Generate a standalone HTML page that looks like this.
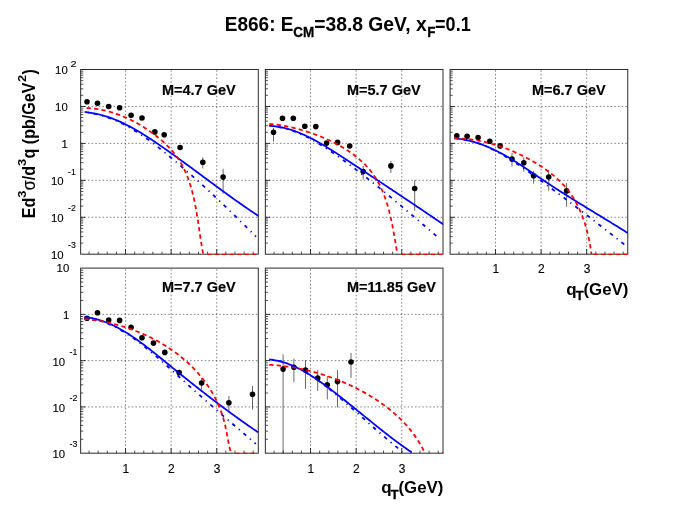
<!DOCTYPE html>
<html><head><meta charset="utf-8"><title>E866</title>
<style>
html,body{margin:0;padding:0;background:#fff;}
body{width:698px;height:523px;overflow:hidden;}
svg text{font-family:"Liberation Sans",sans-serif;fill:#000;filter:grayscale(1);}
svg text.b{font-weight:bold;}
svg text.s{stroke:#000;stroke-width:0.3px;}
svg text.s2{stroke:#000;stroke-width:0.2px;}
svg text.n{font-weight:normal;stroke:#000;stroke-width:0.12px;}
</style></head><body>
<svg width="698" height="523" viewBox="0 0 698 523" style="display:block">
<rect x="0" y="0" width="698" height="523" fill="#fff"/>
<g id="p1">
<clipPath id="c1"><rect x="80.65" y="69.5" width="177.95" height="185.5"/></clipPath>
<path d="M125.55 254.2 V69.5 M171.15 254.2 V69.5 M216.75 254.2 V69.5 M80.65 106.44 H258.3 M80.65 143.38 H258.3 M80.65 180.32 H258.3 M80.65 217.26 H258.3" stroke="#000" stroke-width="0.6" stroke-opacity="0.85" stroke-dasharray="1.5 2.15" fill="none"/>
<path d="M125.55 254.2 v-5 M171.15 254.2 v-5 M216.75 254.2 v-5 M80.65 106.44 h4.6 M80.65 143.38 h4.6 M80.65 180.32 h4.6 M80.65 217.26 h4.6" stroke="#000" stroke-width="0.8" fill="none"/>
<path d="M89.07 254.2 v-2.6 M98.19 254.2 v-2.6 M107.31 254.2 v-2.6 M116.43 254.2 v-2.6 M134.67 254.2 v-2.6 M143.79 254.2 v-2.6 M152.91 254.2 v-2.6 M162.03 254.2 v-2.6 M180.27 254.2 v-2.6 M189.39 254.2 v-2.6 M198.51 254.2 v-2.6 M207.63 254.2 v-2.6 M225.87 254.2 v-2.6 M234.99 254.2 v-2.6 M244.11 254.2 v-2.6 M253.23 254.2 v-2.6 M80.65 95.32 h2.6 M80.65 88.82 h2.6 M80.65 84.2 h2.6 M80.65 80.62 h2.6 M80.65 77.7 h2.6 M80.65 75.22 h2.6 M80.65 73.08 h2.6 M80.65 71.19 h2.6 M80.65 132.26 h2.6 M80.65 125.76 h2.6 M80.65 121.14 h2.6 M80.65 117.56 h2.6 M80.65 114.64 h2.6 M80.65 112.16 h2.6 M80.65 110.02 h2.6 M80.65 108.13 h2.6 M80.65 169.2 h2.6 M80.65 162.7 h2.6 M80.65 158.08 h2.6 M80.65 154.5 h2.6 M80.65 151.58 h2.6 M80.65 149.1 h2.6 M80.65 146.96 h2.6 M80.65 145.07 h2.6 M80.65 206.14 h2.6 M80.65 199.64 h2.6 M80.65 195.02 h2.6 M80.65 191.44 h2.6 M80.65 188.52 h2.6 M80.65 186.04 h2.6 M80.65 183.9 h2.6 M80.65 182.01 h2.6 M80.65 243.08 h2.6 M80.65 236.58 h2.6 M80.65 231.96 h2.6 M80.65 228.38 h2.6 M80.65 225.46 h2.6 M80.65 222.98 h2.6 M80.65 220.84 h2.6 M80.65 218.95 h2.6" stroke="#000" stroke-width="0.7" fill="none"/>
<rect x="80.65" y="69.5" width="177.65" height="184.7" fill="none" stroke="#2a2a2a" stroke-width="1"/>
<path d="M202.8 157.3 V168.5 M223.1 168.7 V193.8" stroke="#000" stroke-width="0.6" fill="none" clip-path="url(#c1)"/>
<circle cx="87" cy="101.8" r="2.8" fill="#000"/>
<circle cx="97.5" cy="103.2" r="2.8" fill="#000"/>
<circle cx="108.7" cy="106.5" r="2.8" fill="#000"/>
<circle cx="119.6" cy="107.8" r="2.8" fill="#000"/>
<circle cx="131.1" cy="115.3" r="2.8" fill="#000"/>
<circle cx="142" cy="118" r="2.8" fill="#000"/>
<circle cx="154.8" cy="131.9" r="2.8" fill="#000"/>
<circle cx="164.2" cy="134.8" r="2.8" fill="#000"/>
<circle cx="180.1" cy="147.5" r="2.8" fill="#000"/>
<circle cx="202.8" cy="162.3" r="2.8" fill="#000"/>
<circle cx="223.1" cy="177.1" r="2.8" fill="#000"/>
<g clip-path="url(#c1)" fill="none" stroke-width="1.75">
<path d="M203.69 254.45 H258.3" stroke="#ff0000" stroke-width="1.5" stroke-dasharray="4 3.5" stroke-dashoffset="3.89"/>
<path d="M84.6 112.09 L86.16 112.28 L87.71 112.49 L89.24 112.73 L90.77 112.98 L92.29 113.26 L93.8 113.56 L95.3 113.89 L96.79 114.23 L98.27 114.59 L99.74 114.97 L101.2 115.38 L102.66 115.8 L104.1 116.24 L105.54 116.7 L106.97 117.18 L108.39 117.68 L109.8 118.19 L111.2 118.73 L112.6 119.28 L113.99 119.84 L115.37 120.43 L116.74 121.02 L118.1 121.64 L119.46 122.27 L120.81 122.91 L122.16 123.58 L123.49 124.25 L124.82 124.94 L126.15 125.64 L127.46 126.36 L128.77 127.09 L130.08 127.83 L131.38 128.58 L132.67 129.35 L133.95 130.12 L135.23 130.91 L136.51 131.71 L137.78 132.52 L139.04 133.35 L140.3 134.18 L141.56 135.02 L142.81 135.87 L144.05 136.73 L145.29 137.6 L146.52 138.47 L147.76 139.36 L148.98 140.25 L150.2 141.15 L151.42 142.05 L152.64 142.97 L153.85 143.89 L155.06 144.81 L156.26 145.74 L157.46 146.68 L158.66 147.62 L159.85 148.57 L161.04 149.52 L162.23 150.47 L163.42 151.43 L164.6 152.39 L165.78 153.35 L166.96 154.32 L168.13 155.29 L169.31 156.26 L170.48 157.23 L171.65 158.2 L172.82 159.18 L173.98 160.16 L175.15 161.14 L176.31 162.12 L177.47 163.1 L178.63 164.09 L179.78 165.07 L180.94 166.06 L182.09 167.05 L183.24 168.05 L184.39 169.04 L185.54 170.04 L186.68 171.04 L187.82 172.03 L188.97 173.04 L190.11 174.04 L191.24 175.04 L192.38 176.05 L193.52 177.06 L194.65 178.07 L195.78 179.08 L196.91 180.09 L198.04 181.11 L199.16 182.12 L200.29 183.14 L201.41 184.16 L202.54 185.18 L203.66 186.2 L204.77 187.22 L205.89 188.25 L207.01 189.27 L208.12 190.3 L209.24 191.33 L210.35 192.36 L211.46 193.39 L212.57 194.43 L213.67 195.46 L214.78 196.5 L215.89 197.53 L216.99 198.57 L218.09 199.61 L219.19 200.65 L220.29 201.7 L221.39 202.74 L222.49 203.78 L223.58 204.83 L224.68 205.88 L225.77 206.93 L226.87 207.97 L227.96 209.03 L229.05 210.08 L230.14 211.13 L231.23 212.18 L232.31 213.24 L233.4 214.3 L234.48 215.35 L235.57 216.41 L236.65 217.47 L237.73 218.53 L238.81 219.59 L239.89 220.66 L240.97 221.72 L242.05 222.78 L243.13 223.85 L244.21 224.91 L245.28 225.98 L246.36 227.05 L247.43 228.12 L248.51 229.19 L249.58 230.26 L250.65 231.33 L251.72 232.4 L252.79 233.47 L253.86 234.55 L254.93 235.62 L256 236.7" stroke="#0000ff" stroke-dasharray="3.65 4.87 1.22 4.87" stroke-dashoffset="5.4"/>
<path d="M84.6 111.99 L86.15 112.15 L87.7 112.34 L89.23 112.55 L90.75 112.78 L92.27 113.04 L93.77 113.31 L95.27 113.61 L96.76 113.93 L98.24 114.27 L99.71 114.62 L101.18 115 L102.64 115.4 L104.09 115.82 L105.53 116.25 L106.96 116.7 L108.39 117.17 L109.81 117.66 L111.22 118.17 L112.63 118.69 L114.03 119.22 L115.42 119.78 L116.8 120.35 L118.18 120.93 L119.56 121.53 L120.92 122.14 L122.29 122.77 L123.64 123.41 L124.99 124.06 L126.34 124.73 L127.68 125.41 L129.01 126.1 L130.34 126.8 L131.66 127.51 L132.98 128.24 L134.3 128.97 L135.61 129.71 L136.91 130.47 L138.22 131.23 L139.51 132 L140.81 132.79 L142.1 133.57 L143.38 134.37 L144.67 135.18 L145.95 135.99 L147.22 136.8 L148.5 137.63 L149.77 138.46 L151.04 139.29 L152.3 140.13 L153.56 140.98 L154.82 141.83 L156.08 142.68 L157.34 143.54 L158.59 144.4 L159.84 145.26 L161.1 146.13 L162.34 146.99 L163.59 147.86 L164.84 148.74 L166.08 149.61 L167.33 150.49 L168.57 151.36 L169.81 152.24 L171.05 153.13 L172.29 154.01 L173.52 154.89 L174.76 155.78 L176 156.67 L177.23 157.56 L178.46 158.45 L179.69 159.34 L180.92 160.23 L182.15 161.13 L183.38 162.02 L184.61 162.92 L185.84 163.82 L187.07 164.72 L188.29 165.62 L189.52 166.52 L190.74 167.42 L191.97 168.32 L193.19 169.22 L194.42 170.12 L195.64 171.03 L196.86 171.93 L198.09 172.83 L199.31 173.74 L200.53 174.64 L201.75 175.54 L202.97 176.45 L204.19 177.35 L205.42 178.26 L206.64 179.16 L207.86 180.06 L209.08 180.97 L210.3 181.87 L211.53 182.77 L212.75 183.67 L213.97 184.57 L215.19 185.47 L216.42 186.37 L217.64 187.27 L218.86 188.17 L220.09 189.06 L221.31 189.96 L222.54 190.85 L223.76 191.75 L224.99 192.64 L226.22 193.53 L227.44 194.42 L228.67 195.3 L229.9 196.19 L231.13 197.08 L232.36 197.96 L233.6 198.84 L234.83 199.72 L236.06 200.6 L237.3 201.47 L238.54 202.34 L239.77 203.22 L241.01 204.09 L242.25 204.95 L243.49 205.82 L244.74 206.68 L245.98 207.54 L247.23 208.4 L248.47 209.25 L249.72 210.1 L250.97 210.95 L252.22 211.8 L253.48 212.64 L254.73 213.48 L255.99 214.32 L257.24 215.16 L258.5 215.99" stroke="#0000ff"/>
<path d="M84.6 108 L86.12 108.04 L87.64 108.1 L89.15 108.19 L90.66 108.31 L92.16 108.44 L93.67 108.6 L95.16 108.78 L96.66 108.99 L98.15 109.22 L99.63 109.47 L101.11 109.74 L102.59 110.03 L104.06 110.34 L105.53 110.68 L106.99 111.03 L108.45 111.41 L109.9 111.8 L111.35 112.22 L112.79 112.65 L114.23 113.11 L115.66 113.58 L117.09 114.08 L118.51 114.59 L119.92 115.12 L121.33 115.67 L122.74 116.24 L124.13 116.82 L125.53 117.43 L126.91 118.05 L128.29 118.68 L129.66 119.34 L131.03 120.01 L132.39 120.69 L133.74 121.4 L135.09 122.11 L136.43 122.85 L137.76 123.6 L139.08 124.36 L140.4 125.14 L141.71 125.93 L143.01 126.74 L144.31 127.56 L145.6 128.4 L146.88 129.25 L148.15 130.11 L149.41 130.99 L150.67 131.88 L151.92 132.78 L153.16 133.69 L154.39 134.62 L155.61 135.56 L156.82 136.5 L158.03 137.47 L159.22 138.44 L160.4 139.42 L161.57 140.42 L162.72 141.43 L163.87 142.46 L164.99 143.49 L166.1 144.54 L167.19 145.61 L168.27 146.68 L169.33 147.77 L170.36 148.88 L171.38 150 L172.37 151.13 L173.35 152.28 L174.3 153.44 L175.22 154.61 L176.12 155.8 L177 157.01 L177.85 158.23 L178.67 159.46 L179.48 160.71 L180.25 161.97 L181.01 163.25 L181.74 164.54 L182.45 165.84 L183.14 167.15 L183.81 168.47 L184.46 169.81 L185.09 171.16 L185.7 172.52 L186.29 173.88 L186.86 175.26 L187.41 176.65 L187.95 178.05 L188.47 179.46 L188.97 180.87 L189.46 182.3 L189.93 183.73 L190.38 185.17 L190.82 186.62 L191.25 188.07 L191.66 189.53 L192.06 191 L192.44 192.47 L192.82 193.95 L193.18 195.44 L193.53 196.93 L193.87 198.42 L194.2 199.92 L194.52 201.43 L194.83 202.93 L195.13 204.44 L195.42 205.96 L195.7 207.47 L195.98 208.99 L196.25 210.51 L196.51 212.04 L196.77 213.56 L197.02 215.09 L197.27 216.61 L197.51 218.14 L197.75 219.66 L197.98 221.19 L198.22 222.71 L198.44 224.24 L198.67 225.76 L198.89 227.28 L199.12 228.8 L199.34 230.32 L199.56 231.83 L199.79 233.34 L200.01 234.85 L200.23 236.36 L200.46 237.86 L200.69 239.35 L200.92 240.84 L201.15 242.33 L201.39 243.81 L201.63 245.28 L201.88 246.75 L202.13 248.21 L202.38 249.67 L202.65 251.12 L202.92 252.56 L203.19 253.99" stroke="#ff0000" stroke-dasharray="4.3 3.2" stroke-dashoffset="-2"/>
</g>
<text transform="translate(162.02 95) scale(0.937 1)" class="b s2" font-size="15.45">M=4.7 GeV</text>
</g>
<g id="p2">
<clipPath id="c2"><rect x="265.35" y="69.5" width="177.95" height="185.5"/></clipPath>
<path d="M310.55 254.2 V69.5 M356.15 254.2 V69.5 M401.75 254.2 V69.5 M265.35 106.44 H443 M265.35 143.38 H443 M265.35 180.32 H443 M265.35 217.26 H443" stroke="#000" stroke-width="0.6" stroke-opacity="0.85" stroke-dasharray="1.5 2.15" fill="none"/>
<path d="M310.55 254.2 v-5 M356.15 254.2 v-5 M401.75 254.2 v-5 M265.35 106.44 h4.6 M265.35 143.38 h4.6 M265.35 180.32 h4.6 M265.35 217.26 h4.6" stroke="#000" stroke-width="0.8" fill="none"/>
<path d="M274.07 254.2 v-2.6 M283.19 254.2 v-2.6 M292.31 254.2 v-2.6 M301.43 254.2 v-2.6 M319.67 254.2 v-2.6 M328.79 254.2 v-2.6 M337.91 254.2 v-2.6 M347.03 254.2 v-2.6 M365.27 254.2 v-2.6 M374.39 254.2 v-2.6 M383.51 254.2 v-2.6 M392.63 254.2 v-2.6 M410.87 254.2 v-2.6 M419.99 254.2 v-2.6 M429.11 254.2 v-2.6 M438.23 254.2 v-2.6 M265.35 95.32 h2.6 M265.35 88.82 h2.6 M265.35 84.2 h2.6 M265.35 80.62 h2.6 M265.35 77.7 h2.6 M265.35 75.22 h2.6 M265.35 73.08 h2.6 M265.35 71.19 h2.6 M265.35 132.26 h2.6 M265.35 125.76 h2.6 M265.35 121.14 h2.6 M265.35 117.56 h2.6 M265.35 114.64 h2.6 M265.35 112.16 h2.6 M265.35 110.02 h2.6 M265.35 108.13 h2.6 M265.35 169.2 h2.6 M265.35 162.7 h2.6 M265.35 158.08 h2.6 M265.35 154.5 h2.6 M265.35 151.58 h2.6 M265.35 149.1 h2.6 M265.35 146.96 h2.6 M265.35 145.07 h2.6 M265.35 206.14 h2.6 M265.35 199.64 h2.6 M265.35 195.02 h2.6 M265.35 191.44 h2.6 M265.35 188.52 h2.6 M265.35 186.04 h2.6 M265.35 183.9 h2.6 M265.35 182.01 h2.6 M265.35 243.08 h2.6 M265.35 236.58 h2.6 M265.35 231.96 h2.6 M265.35 228.38 h2.6 M265.35 225.46 h2.6 M265.35 222.98 h2.6 M265.35 220.84 h2.6 M265.35 218.95 h2.6" stroke="#000" stroke-width="0.7" fill="none"/>
<rect x="265.35" y="69.5" width="177.65" height="184.7" fill="none" stroke="#2a2a2a" stroke-width="1"/>
<path d="M273.5 128 V141.7 M363.2 165.9 V179.5 M390.9 160.8 V173 M414.7 180.2 V210.8" stroke="#000" stroke-width="0.6" fill="none" clip-path="url(#c2)"/>
<circle cx="273.5" cy="132.3" r="2.8" fill="#000"/>
<circle cx="282.5" cy="118.3" r="2.8" fill="#000"/>
<circle cx="293.3" cy="118.3" r="2.8" fill="#000"/>
<circle cx="304.8" cy="126.3" r="2.8" fill="#000"/>
<circle cx="315.8" cy="126.6" r="2.8" fill="#000"/>
<circle cx="326.6" cy="143.1" r="2.8" fill="#000"/>
<circle cx="337.6" cy="142.4" r="2.8" fill="#000"/>
<circle cx="349.7" cy="146" r="2.8" fill="#000"/>
<circle cx="363.2" cy="171.6" r="2.8" fill="#000"/>
<circle cx="390.9" cy="165.9" r="2.8" fill="#000"/>
<circle cx="414.7" cy="188.5" r="2.8" fill="#000"/>
<g clip-path="url(#c2)" fill="none" stroke-width="1.75">
<path d="M397.89 254.45 H443" stroke="#ff0000" stroke-width="1.5" stroke-dasharray="4 3.5" stroke-dashoffset="4.39"/>
<path d="M269.2 125.89 L270.75 126 L272.28 126.15 L273.81 126.32 L275.32 126.52 L276.83 126.75 L278.32 127 L279.81 127.28 L281.29 127.58 L282.76 127.91 L284.22 128.27 L285.67 128.64 L287.12 129.04 L288.55 129.46 L289.98 129.91 L291.4 130.37 L292.81 130.86 L294.22 131.37 L295.61 131.89 L297 132.44 L298.39 133 L299.76 133.59 L301.13 134.19 L302.49 134.81 L303.85 135.44 L305.2 136.09 L306.54 136.76 L307.88 137.44 L309.21 138.13 L310.54 138.84 L311.86 139.56 L313.17 140.3 L314.48 141.04 L315.79 141.8 L317.09 142.57 L318.38 143.35 L319.67 144.14 L320.96 144.94 L322.24 145.75 L323.52 146.57 L324.8 147.4 L326.07 148.23 L327.33 149.07 L328.6 149.92 L329.86 150.77 L331.11 151.62 L332.37 152.49 L333.62 153.35 L334.87 154.22 L336.11 155.09 L337.36 155.97 L338.6 156.85 L339.84 157.73 L341.07 158.61 L342.31 159.5 L343.54 160.39 L344.77 161.28 L346 162.17 L347.22 163.07 L348.45 163.97 L349.67 164.87 L350.89 165.77 L352.1 166.68 L353.32 167.59 L354.53 168.5 L355.74 169.41 L356.95 170.33 L358.16 171.24 L359.36 172.16 L360.57 173.09 L361.77 174.01 L362.97 174.94 L364.16 175.87 L365.36 176.8 L366.55 177.73 L367.75 178.66 L368.94 179.6 L370.13 180.54 L371.32 181.48 L372.5 182.42 L373.69 183.36 L374.87 184.31 L376.05 185.25 L377.23 186.2 L378.41 187.15 L379.59 188.1 L380.77 189.06 L381.94 190.01 L383.12 190.97 L384.29 191.92 L385.46 192.88 L386.63 193.84 L387.8 194.8 L388.97 195.77 L390.13 196.73 L391.3 197.69 L392.46 198.66 L393.63 199.63 L394.79 200.6 L395.95 201.56 L397.11 202.53 L398.27 203.51 L399.43 204.48 L400.59 205.45 L401.75 206.43 L402.9 207.4 L404.06 208.38 L405.22 209.35 L406.37 210.33 L407.52 211.31 L408.68 212.28 L409.83 213.26 L410.98 214.24 L412.13 215.22 L413.29 216.2 L414.44 217.18 L415.59 218.16 L416.74 219.15 L417.89 220.13 L419.04 221.11 L420.18 222.09 L421.33 223.08 L422.48 224.06 L423.63 225.04 L424.78 226.02 L425.93 227.01 L427.07 227.99 L428.22 228.97 L429.37 229.96 L430.52 230.94 L431.66 231.92 L432.81 232.91 L433.96 233.89 L435.11 234.87 L436.26 235.85 L437.4 236.84 L438.55 237.82 L439.7 238.8" stroke="#0000ff" stroke-dasharray="3.65 4.87 1.22 4.87" stroke-dashoffset="5.4"/>
<path d="M269.2 125.89 L270.75 125.96 L272.29 126.06 L273.82 126.2 L275.34 126.36 L276.85 126.56 L278.35 126.78 L279.84 127.04 L281.32 127.32 L282.8 127.62 L284.27 127.95 L285.72 128.31 L287.18 128.69 L288.62 129.1 L290.06 129.53 L291.48 129.98 L292.91 130.45 L294.32 130.94 L295.73 131.46 L297.13 131.99 L298.52 132.54 L299.91 133.11 L301.3 133.69 L302.68 134.29 L304.05 134.91 L305.41 135.54 L306.78 136.19 L308.13 136.85 L309.49 137.52 L310.83 138.2 L312.18 138.89 L313.52 139.6 L314.85 140.31 L316.18 141.04 L317.51 141.77 L318.84 142.51 L320.16 143.26 L321.47 144.02 L322.79 144.79 L324.1 145.57 L325.41 146.35 L326.71 147.14 L328.01 147.93 L329.31 148.73 L330.61 149.54 L331.9 150.35 L333.2 151.16 L334.49 151.98 L335.77 152.8 L337.06 153.63 L338.35 154.46 L339.63 155.29 L340.91 156.12 L342.19 156.96 L343.47 157.79 L344.75 158.63 L346.03 159.47 L347.3 160.31 L348.58 161.14 L349.85 161.98 L351.13 162.82 L352.4 163.66 L353.67 164.49 L354.95 165.33 L356.22 166.16 L357.49 167 L358.76 167.84 L360.03 168.67 L361.3 169.51 L362.57 170.34 L363.84 171.18 L365.1 172.02 L366.37 172.85 L367.64 173.69 L368.9 174.52 L370.17 175.36 L371.43 176.19 L372.7 177.03 L373.96 177.87 L375.23 178.7 L376.49 179.54 L377.75 180.37 L379.01 181.21 L380.28 182.05 L381.54 182.88 L382.8 183.72 L384.06 184.56 L385.32 185.39 L386.58 186.23 L387.84 187.07 L389.1 187.9 L390.36 188.74 L391.62 189.58 L392.88 190.42 L394.14 191.26 L395.4 192.09 L396.66 192.93 L397.91 193.77 L399.17 194.61 L400.43 195.45 L401.69 196.29 L402.95 197.13 L404.2 197.97 L405.46 198.81 L406.72 199.66 L407.97 200.5 L409.23 201.34 L410.49 202.18 L411.75 203.03 L413 203.87 L414.26 204.72 L415.52 205.56 L416.77 206.41 L418.03 207.25 L419.29 208.1 L420.55 208.94 L421.8 209.79 L423.06 210.64 L424.32 211.49 L425.58 212.34 L426.83 213.19 L428.09 214.04 L429.35 214.89 L430.61 215.74 L431.87 216.59 L433.12 217.45 L434.38 218.3 L435.64 219.16 L436.9 220.01 L438.16 220.87 L439.42 221.73 L440.68 222.58 L441.94 223.44 L443.2 224.3" stroke="#0000ff"/>
<path d="M269.2 123.99 L270.7 124.11 L272.2 124.24 L273.69 124.39 L275.18 124.55 L276.67 124.73 L278.16 124.93 L279.64 125.14 L281.12 125.37 L282.6 125.61 L284.08 125.87 L285.56 126.14 L287.03 126.43 L288.5 126.73 L289.97 127.04 L291.44 127.37 L292.91 127.71 L294.37 128.07 L295.83 128.44 L297.29 128.82 L298.75 129.21 L300.2 129.62 L301.65 130.03 L303.11 130.46 L304.55 130.9 L306 131.35 L307.45 131.82 L308.89 132.29 L310.33 132.77 L311.77 133.27 L313.2 133.77 L314.64 134.29 L316.07 134.81 L317.5 135.35 L318.92 135.9 L320.34 136.46 L321.76 137.03 L323.17 137.61 L324.57 138.21 L325.98 138.82 L327.37 139.44 L328.76 140.07 L330.15 140.71 L331.53 141.37 L332.9 142.04 L334.27 142.73 L335.63 143.43 L336.98 144.14 L338.32 144.87 L339.66 145.61 L340.98 146.37 L342.3 147.14 L343.61 147.93 L344.92 148.73 L346.21 149.54 L347.49 150.38 L348.76 151.22 L350.02 152.08 L351.26 152.96 L352.5 153.85 L353.72 154.76 L354.93 155.69 L356.12 156.62 L357.3 157.58 L358.46 158.55 L359.6 159.54 L360.73 160.54 L361.85 161.55 L362.94 162.59 L364.02 163.64 L365.08 164.7 L366.12 165.78 L367.13 166.88 L368.13 167.99 L369.11 169.12 L370.07 170.27 L371 171.43 L371.91 172.6 L372.8 173.8 L373.66 175.01 L374.5 176.24 L375.32 177.48 L376.11 178.74 L376.88 180.01 L377.63 181.3 L378.36 182.6 L379.07 183.91 L379.75 185.24 L380.42 186.58 L381.06 187.94 L381.69 189.3 L382.29 190.68 L382.88 192.06 L383.45 193.46 L384.01 194.87 L384.54 196.28 L385.06 197.71 L385.57 199.14 L386.06 200.59 L386.53 202.04 L386.99 203.49 L387.44 204.96 L387.87 206.43 L388.29 207.9 L388.69 209.38 L389.09 210.87 L389.47 212.36 L389.84 213.85 L390.2 215.35 L390.55 216.85 L390.89 218.35 L391.22 219.86 L391.55 221.36 L391.86 222.87 L392.17 224.38 L392.47 225.89 L392.76 227.4 L393.04 228.91 L393.32 230.41 L393.6 231.92 L393.87 233.42 L394.13 234.92 L394.39 236.42 L394.65 237.92 L394.91 239.41 L395.16 240.89 L395.41 242.37 L395.66 243.85 L395.9 245.32 L396.15 246.78 L396.4 248.24 L396.65 249.69 L396.89 251.14 L397.14 252.57 L397.39 254" stroke="#ff0000" stroke-dasharray="4.3 3.2" stroke-dashoffset="0"/>
</g>
<text transform="translate(347.02 95) scale(0.937 1)" class="b s2" font-size="15.45">M=5.7 GeV</text>
</g>
<g id="p3">
<clipPath id="c3"><rect x="450.1" y="69.5" width="177.95" height="185.5"/></clipPath>
<path d="M495.5 254.2 V69.5 M541.1 254.2 V69.5 M586.7 254.2 V69.5 M450.1 106.44 H627.75 M450.1 143.38 H627.75 M450.1 180.32 H627.75 M450.1 217.26 H627.75" stroke="#000" stroke-width="0.6" stroke-opacity="0.85" stroke-dasharray="1.5 2.15" fill="none"/>
<path d="M495.5 254.2 v-5 M541.1 254.2 v-5 M586.7 254.2 v-5 M450.1 106.44 h4.6 M450.1 143.38 h4.6 M450.1 180.32 h4.6 M450.1 217.26 h4.6" stroke="#000" stroke-width="0.8" fill="none"/>
<path d="M459.02 254.2 v-2.6 M468.14 254.2 v-2.6 M477.26 254.2 v-2.6 M486.38 254.2 v-2.6 M504.62 254.2 v-2.6 M513.74 254.2 v-2.6 M522.86 254.2 v-2.6 M531.98 254.2 v-2.6 M550.22 254.2 v-2.6 M559.34 254.2 v-2.6 M568.46 254.2 v-2.6 M577.58 254.2 v-2.6 M595.82 254.2 v-2.6 M604.94 254.2 v-2.6 M614.06 254.2 v-2.6 M623.18 254.2 v-2.6 M450.1 95.32 h2.6 M450.1 88.82 h2.6 M450.1 84.2 h2.6 M450.1 80.62 h2.6 M450.1 77.7 h2.6 M450.1 75.22 h2.6 M450.1 73.08 h2.6 M450.1 71.19 h2.6 M450.1 132.26 h2.6 M450.1 125.76 h2.6 M450.1 121.14 h2.6 M450.1 117.56 h2.6 M450.1 114.64 h2.6 M450.1 112.16 h2.6 M450.1 110.02 h2.6 M450.1 108.13 h2.6 M450.1 169.2 h2.6 M450.1 162.7 h2.6 M450.1 158.08 h2.6 M450.1 154.5 h2.6 M450.1 151.58 h2.6 M450.1 149.1 h2.6 M450.1 146.96 h2.6 M450.1 145.07 h2.6 M450.1 206.14 h2.6 M450.1 199.64 h2.6 M450.1 195.02 h2.6 M450.1 191.44 h2.6 M450.1 188.52 h2.6 M450.1 186.04 h2.6 M450.1 183.9 h2.6 M450.1 182.01 h2.6 M450.1 243.08 h2.6 M450.1 236.58 h2.6 M450.1 231.96 h2.6 M450.1 228.38 h2.6 M450.1 225.46 h2.6 M450.1 222.98 h2.6 M450.1 220.84 h2.6 M450.1 218.95 h2.6" stroke="#000" stroke-width="0.7" fill="none"/>
<rect x="450.1" y="69.5" width="177.65" height="184.7" fill="none" stroke="#2a2a2a" stroke-width="1"/>
<path d="M512 153 V166.7 M523.8 157.3 V171.7 M533.6 170.8 V183.7 M548.7 170.1 V190.9 M566.6 183 V206.7" stroke="#000" stroke-width="0.6" fill="none" clip-path="url(#c3)"/>
<circle cx="456.8" cy="135.8" r="2.8" fill="#000"/>
<circle cx="467.1" cy="136.3" r="2.8" fill="#000"/>
<circle cx="478.1" cy="137.5" r="2.8" fill="#000"/>
<circle cx="489.8" cy="141.3" r="2.8" fill="#000"/>
<circle cx="500.1" cy="145.9" r="2.8" fill="#000"/>
<circle cx="512" cy="159.1" r="2.8" fill="#000"/>
<circle cx="523.8" cy="162.8" r="2.8" fill="#000"/>
<circle cx="533.6" cy="175.8" r="2.8" fill="#000"/>
<circle cx="548.7" cy="177" r="2.8" fill="#000"/>
<circle cx="566.6" cy="190.9" r="2.8" fill="#000"/>
<g clip-path="url(#c3)" fill="none" stroke-width="1.75">
<path d="M591.99 254.45 H627.75" stroke="#ff0000" stroke-width="1.5" stroke-dasharray="4 3.5" stroke-dashoffset="6.09"/>
<path d="M454.2 138.29 L455.76 138.42 L457.31 138.57 L458.85 138.74 L460.38 138.95 L461.9 139.18 L463.41 139.44 L464.91 139.72 L466.4 140.02 L467.89 140.35 L469.36 140.7 L470.83 141.08 L472.29 141.48 L473.74 141.9 L475.18 142.34 L476.61 142.8 L478.04 143.28 L479.46 143.78 L480.87 144.3 L482.28 144.84 L483.68 145.4 L485.07 145.98 L486.45 146.57 L487.83 147.18 L489.2 147.8 L490.56 148.44 L491.92 149.1 L493.27 149.77 L494.62 150.45 L495.96 151.15 L497.3 151.86 L498.63 152.58 L499.95 153.31 L501.27 154.06 L502.59 154.82 L503.9 155.58 L505.21 156.36 L506.51 157.15 L507.8 157.94 L509.1 158.74 L510.39 159.55 L511.67 160.37 L512.95 161.19 L514.23 162.02 L515.5 162.86 L516.78 163.7 L518.04 164.55 L519.31 165.4 L520.57 166.26 L521.83 167.12 L523.09 167.99 L524.34 168.86 L525.59 169.73 L526.84 170.61 L528.09 171.49 L529.34 172.38 L530.58 173.27 L531.82 174.16 L533.06 175.05 L534.3 175.95 L535.53 176.84 L536.77 177.74 L538 178.64 L539.24 179.54 L540.47 180.44 L541.7 181.34 L542.93 182.24 L544.16 183.14 L545.39 184.05 L546.61 184.95 L547.84 185.85 L549.07 186.76 L550.29 187.66 L551.52 188.56 L552.74 189.47 L553.96 190.37 L555.18 191.28 L556.41 192.19 L557.63 193.09 L558.85 194 L560.07 194.91 L561.28 195.82 L562.5 196.73 L563.72 197.64 L564.93 198.55 L566.15 199.46 L567.36 200.37 L568.58 201.28 L569.79 202.19 L571 203.11 L572.22 204.02 L573.43 204.94 L574.64 205.85 L575.85 206.77 L577.06 207.68 L578.27 208.6 L579.48 209.52 L580.68 210.44 L581.89 211.36 L583.1 212.28 L584.3 213.2 L585.51 214.12 L586.71 215.05 L587.92 215.97 L589.12 216.9 L590.33 217.82 L591.53 218.75 L592.73 219.67 L593.93 220.6 L595.13 221.53 L596.33 222.46 L597.53 223.39 L598.73 224.32 L599.93 225.26 L601.13 226.19 L602.33 227.13 L603.53 228.06 L604.73 229 L605.92 229.94 L607.12 230.87 L608.31 231.81 L609.51 232.75 L610.71 233.7 L611.9 234.64 L613.09 235.58 L614.29 236.53 L615.48 237.47 L616.68 238.42 L617.87 239.37 L619.06 240.32 L620.25 241.27 L621.45 242.22 L622.64 243.18 L623.83 244.13 L625.02 245.09 L626.21 246.04 L627.4 247" stroke="#0000ff" stroke-dasharray="3.65 4.87 1.22 4.87" stroke-dashoffset="5.4"/>
<path d="M454.2 138.29 L455.75 138.43 L457.29 138.6 L458.82 138.79 L460.34 139 L461.86 139.24 L463.36 139.49 L464.86 139.77 L466.34 140.08 L467.82 140.4 L469.29 140.74 L470.75 141.1 L472.21 141.48 L473.66 141.89 L475.1 142.31 L476.53 142.75 L477.95 143.2 L479.37 143.68 L480.78 144.17 L482.19 144.68 L483.58 145.21 L484.97 145.75 L486.36 146.31 L487.74 146.88 L489.11 147.47 L490.48 148.07 L491.84 148.69 L493.2 149.32 L494.55 149.96 L495.89 150.62 L497.23 151.29 L498.57 151.97 L499.9 152.66 L501.22 153.36 L502.55 154.08 L503.86 154.81 L505.18 155.54 L506.49 156.29 L507.79 157.04 L509.1 157.81 L510.39 158.58 L511.69 159.36 L512.98 160.15 L514.27 160.94 L515.56 161.74 L516.84 162.55 L518.12 163.37 L519.4 164.19 L520.68 165.01 L521.95 165.85 L523.23 166.68 L524.5 167.52 L525.77 168.36 L527.04 169.21 L528.3 170.06 L529.57 170.91 L530.83 171.76 L532.1 172.62 L533.36 173.48 L534.62 174.34 L535.89 175.19 L537.15 176.05 L538.41 176.91 L539.67 177.77 L540.94 178.62 L542.2 179.48 L543.46 180.33 L544.73 181.18 L545.99 182.03 L547.26 182.87 L548.53 183.72 L549.8 184.55 L551.07 185.39 L552.34 186.22 L553.61 187.05 L554.88 187.88 L556.16 188.7 L557.43 189.53 L558.71 190.35 L559.98 191.16 L561.26 191.98 L562.54 192.79 L563.82 193.6 L565.09 194.41 L566.37 195.22 L567.66 196.02 L568.94 196.82 L570.22 197.63 L571.5 198.43 L572.79 199.22 L574.07 200.02 L575.35 200.82 L576.64 201.61 L577.93 202.4 L579.21 203.19 L580.5 203.99 L581.79 204.77 L583.07 205.56 L584.36 206.35 L585.65 207.14 L586.94 207.93 L588.23 208.71 L589.52 209.5 L590.81 210.28 L592.09 211.07 L593.38 211.86 L594.67 212.64 L595.97 213.43 L597.26 214.21 L598.55 215 L599.84 215.78 L601.13 216.57 L602.42 217.35 L603.71 218.14 L605 218.93 L606.29 219.72 L607.58 220.5 L608.87 221.29 L610.16 222.08 L611.45 222.88 L612.74 223.67 L614.03 224.46 L615.32 225.26 L616.61 226.05 L617.9 226.85 L619.19 227.65 L620.48 228.45 L621.77 229.25 L623.05 230.06 L624.34 230.86 L625.63 231.67 L626.92 232.48 L628.2 233.3" stroke="#0000ff"/>
<path d="M454.2 138.3 L455.73 138.32 L457.25 138.35 L458.77 138.41 L460.28 138.48 L461.8 138.56 L463.31 138.67 L464.82 138.79 L466.33 138.93 L467.84 139.09 L469.34 139.26 L470.84 139.45 L472.34 139.65 L473.83 139.87 L475.33 140.11 L476.82 140.36 L478.31 140.63 L479.79 140.91 L481.27 141.21 L482.75 141.53 L484.23 141.85 L485.7 142.2 L487.17 142.56 L488.64 142.93 L490.1 143.32 L491.56 143.72 L493.02 144.14 L494.47 144.57 L495.92 145.01 L497.37 145.47 L498.81 145.94 L500.25 146.43 L501.69 146.93 L503.12 147.44 L504.55 147.96 L505.97 148.5 L507.4 149.05 L508.81 149.61 L510.22 150.19 L511.63 150.77 L513.04 151.37 L514.44 151.98 L515.83 152.61 L517.23 153.24 L518.61 153.89 L520 154.55 L521.38 155.22 L522.75 155.9 L524.12 156.59 L525.48 157.29 L526.84 158 L528.2 158.72 L529.55 159.46 L530.9 160.2 L532.23 160.96 L533.57 161.72 L534.89 162.5 L536.21 163.29 L537.52 164.09 L538.83 164.9 L540.12 165.72 L541.4 166.56 L542.68 167.4 L543.94 168.26 L545.2 169.14 L546.44 170.02 L547.67 170.92 L548.89 171.83 L550.1 172.75 L551.3 173.69 L552.48 174.64 L553.65 175.6 L554.8 176.58 L555.94 177.57 L557.06 178.58 L558.17 179.59 L559.26 180.63 L560.34 181.68 L561.4 182.74 L562.44 183.82 L563.46 184.91 L564.46 186.02 L565.45 187.14 L566.41 188.28 L567.36 189.44 L568.29 190.61 L569.19 191.8 L570.07 193 L570.94 194.22 L571.78 195.45 L572.6 196.7 L573.4 197.97 L574.18 199.24 L574.94 200.54 L575.68 201.84 L576.4 203.16 L577.11 204.49 L577.79 205.83 L578.46 207.19 L579.1 208.55 L579.73 209.93 L580.34 211.31 L580.94 212.71 L581.51 214.12 L582.07 215.53 L582.61 216.95 L583.14 218.38 L583.65 219.82 L584.14 221.27 L584.62 222.72 L585.08 224.18 L585.53 225.64 L585.96 227.11 L586.38 228.59 L586.79 230.07 L587.17 231.55 L587.55 233.04 L587.91 234.53 L588.26 236.02 L588.59 237.52 L588.92 239.02 L589.23 240.52 L589.52 242.02 L589.81 243.52 L590.08 245.02 L590.35 246.52 L590.6 248.02 L590.84 249.52 L591.06 251.02 L591.28 252.51 L591.49 254" stroke="#ff0000" stroke-dasharray="4.3 3.2" stroke-dashoffset="0"/>
</g>
<text transform="translate(532.02 95) scale(0.937 1)" class="b s2" font-size="15.45">M=6.7 GeV</text>
</g>
<g id="p4">
<clipPath id="c4"><rect x="80.65" y="268.1" width="177.95" height="185.9"/></clipPath>
<path d="M125.55 453.2 V268.1 M171.15 453.2 V268.1 M216.75 453.2 V268.1 M80.65 314.38 H258.3 M80.65 360.65 H258.3 M80.65 406.93 H258.3" stroke="#000" stroke-width="0.6" stroke-opacity="0.85" stroke-dasharray="1.5 2.15" fill="none"/>
<path d="M125.55 453.2 v-5 M171.15 453.2 v-5 M216.75 453.2 v-5 M80.65 314.38 h4.6 M80.65 360.65 h4.6 M80.65 406.93 h4.6" stroke="#000" stroke-width="0.8" fill="none"/>
<path d="M89.07 453.2 v-2.6 M98.19 453.2 v-2.6 M107.31 453.2 v-2.6 M116.43 453.2 v-2.6 M134.67 453.2 v-2.6 M143.79 453.2 v-2.6 M152.91 453.2 v-2.6 M162.03 453.2 v-2.6 M180.27 453.2 v-2.6 M189.39 453.2 v-2.6 M198.51 453.2 v-2.6 M207.63 453.2 v-2.6 M225.87 453.2 v-2.6 M234.99 453.2 v-2.6 M244.11 453.2 v-2.6 M253.23 453.2 v-2.6 M80.65 300.44 h2.6 M80.65 292.3 h2.6 M80.65 286.51 h2.6 M80.65 282.03 h2.6 M80.65 278.37 h2.6 M80.65 275.27 h2.6 M80.65 272.58 h2.6 M80.65 270.22 h2.6 M80.65 346.72 h2.6 M80.65 338.57 h2.6 M80.65 332.79 h2.6 M80.65 328.31 h2.6 M80.65 324.64 h2.6 M80.65 321.54 h2.6 M80.65 318.86 h2.6 M80.65 316.49 h2.6 M80.65 392.99 h2.6 M80.65 384.85 h2.6 M80.65 379.06 h2.6 M80.65 374.58 h2.6 M80.65 370.92 h2.6 M80.65 367.82 h2.6 M80.65 365.13 h2.6 M80.65 362.77 h2.6 M80.65 439.27 h2.6 M80.65 431.12 h2.6 M80.65 425.34 h2.6 M80.65 420.86 h2.6 M80.65 417.19 h2.6 M80.65 414.09 h2.6 M80.65 411.41 h2.6 M80.65 409.04 h2.6" stroke="#000" stroke-width="0.7" fill="none"/>
<rect x="80.65" y="268.1" width="177.65" height="185.1" fill="none" stroke="#2a2a2a" stroke-width="1"/>
<path d="M201.6 378 V389.5 M228.9 396 V410.4 M252.5 385.9 V409.5" stroke="#000" stroke-width="0.6" fill="none" clip-path="url(#c4)"/>
<circle cx="87" cy="318.3" r="2.8" fill="#000"/>
<circle cx="97.5" cy="312.7" r="2.8" fill="#000"/>
<circle cx="108.7" cy="320.1" r="2.8" fill="#000"/>
<circle cx="119.6" cy="320.4" r="2.8" fill="#000"/>
<circle cx="131.1" cy="327.3" r="2.8" fill="#000"/>
<circle cx="142" cy="337.8" r="2.8" fill="#000"/>
<circle cx="153.5" cy="343.1" r="2.8" fill="#000"/>
<circle cx="164.8" cy="352.4" r="2.8" fill="#000"/>
<circle cx="179.1" cy="372.6" r="2.8" fill="#000"/>
<circle cx="201.6" cy="383" r="2.8" fill="#000"/>
<circle cx="228.9" cy="402.7" r="2.8" fill="#000"/>
<circle cx="252.5" cy="394.2" r="2.8" fill="#000"/>
<g clip-path="url(#c4)" fill="none" stroke-width="1.75">
<path d="M231.5 453.45 H258.3" stroke="#ff0000" stroke-width="1.5" stroke-dasharray="4 3.5" stroke-dashoffset="3.4"/>
<path d="M84.6 316.99 L86.15 317.22 L87.68 317.48 L89.2 317.76 L90.71 318.07 L92.2 318.41 L93.69 318.77 L95.16 319.15 L96.62 319.56 L98.07 319.99 L99.52 320.45 L100.95 320.92 L102.37 321.42 L103.78 321.94 L105.18 322.48 L106.57 323.04 L107.95 323.62 L109.32 324.22 L110.69 324.84 L112.04 325.48 L113.39 326.13 L114.72 326.8 L116.05 327.49 L117.37 328.2 L118.68 328.92 L119.99 329.65 L121.29 330.41 L122.58 331.17 L123.86 331.95 L125.14 332.74 L126.4 333.55 L127.67 334.37 L128.92 335.2 L130.17 336.04 L131.42 336.9 L132.65 337.76 L133.89 338.64 L135.11 339.52 L136.33 340.42 L137.55 341.32 L138.76 342.23 L139.97 343.15 L141.17 344.07 L142.37 345.01 L143.56 345.94 L144.75 346.89 L145.94 347.84 L147.12 348.8 L148.3 349.76 L149.47 350.73 L150.65 351.7 L151.81 352.68 L152.98 353.66 L154.14 354.65 L155.3 355.64 L156.46 356.63 L157.61 357.63 L158.76 358.63 L159.91 359.63 L161.06 360.64 L162.2 361.65 L163.35 362.66 L164.49 363.68 L165.63 364.7 L166.77 365.71 L167.9 366.74 L169.04 367.76 L170.17 368.78 L171.31 369.8 L172.44 370.83 L173.57 371.85 L174.7 372.88 L175.83 373.91 L176.96 374.93 L178.09 375.96 L179.22 376.98 L180.35 378 L181.48 379.03 L182.61 380.05 L183.74 381.07 L184.87 382.08 L186 383.1 L187.13 384.12 L188.27 385.13 L189.4 386.14 L190.53 387.16 L191.66 388.17 L192.8 389.18 L193.93 390.18 L195.06 391.19 L196.2 392.2 L197.33 393.2 L198.47 394.21 L199.6 395.21 L200.74 396.21 L201.87 397.21 L203.01 398.21 L204.15 399.21 L205.28 400.21 L206.42 401.21 L207.56 402.21 L208.7 403.2 L209.84 404.2 L210.98 405.2 L212.12 406.19 L213.26 407.18 L214.4 408.18 L215.54 409.17 L216.68 410.16 L217.82 411.15 L218.96 412.15 L220.11 413.14 L221.25 414.13 L222.4 415.12 L223.54 416.11 L224.68 417.1 L225.83 418.08 L226.98 419.07 L228.12 420.06 L229.27 421.05 L230.42 422.04 L231.56 423.03 L232.71 424.02 L233.86 425 L235.01 425.99 L236.16 426.98 L237.31 427.97 L238.46 428.95 L239.62 429.94 L240.77 430.93 L241.92 431.92 L243.07 432.91 L244.23 433.9 L245.38 434.88 L246.54 435.87 L247.69 436.86 L248.85 437.85 L250.01 438.84 L251.17 439.83 L252.32 440.82 L253.48 441.81 L254.64 442.81 L255.8 443.8" stroke="#0000ff" stroke-dasharray="3.65 4.87 1.22 4.87" stroke-dashoffset="5.4"/>
<path d="M84.6 316.99 L86.15 317.18 L87.68 317.39 L89.2 317.64 L90.71 317.91 L92.21 318.21 L93.69 318.54 L95.17 318.89 L96.63 319.26 L98.08 319.66 L99.53 320.09 L100.96 320.54 L102.38 321 L103.79 321.5 L105.2 322.01 L106.59 322.55 L107.97 323.1 L109.35 323.68 L110.71 324.27 L112.07 324.89 L113.42 325.52 L114.76 326.17 L116.1 326.84 L117.42 327.52 L118.74 328.22 L120.05 328.94 L121.36 329.67 L122.65 330.42 L123.94 331.18 L125.23 331.95 L126.51 332.74 L127.78 333.54 L129.04 334.35 L130.31 335.17 L131.56 336 L132.81 336.85 L134.06 337.7 L135.3 338.56 L136.53 339.44 L137.76 340.32 L138.99 341.2 L140.22 342.1 L141.44 343 L142.65 343.9 L143.87 344.82 L145.08 345.74 L146.28 346.66 L147.49 347.59 L148.69 348.52 L149.89 349.45 L151.09 350.39 L152.28 351.34 L153.48 352.28 L154.67 353.23 L155.86 354.18 L157.04 355.14 L158.23 356.09 L159.41 357.05 L160.6 358.01 L161.78 358.97 L162.96 359.94 L164.14 360.9 L165.32 361.86 L166.5 362.82 L167.68 363.79 L168.86 364.75 L170.04 365.71 L171.22 366.67 L172.39 367.63 L173.57 368.58 L174.75 369.54 L175.93 370.5 L177.11 371.45 L178.29 372.41 L179.47 373.36 L180.65 374.31 L181.83 375.26 L183.01 376.21 L184.19 377.16 L185.37 378.11 L186.55 379.05 L187.74 380 L188.92 380.94 L190.1 381.88 L191.29 382.82 L192.47 383.76 L193.65 384.7 L194.84 385.64 L196.03 386.58 L197.21 387.51 L198.4 388.44 L199.59 389.38 L200.78 390.31 L201.97 391.24 L203.16 392.17 L204.35 393.09 L205.54 394.02 L206.73 394.94 L207.93 395.86 L209.12 396.79 L210.32 397.7 L211.52 398.62 L212.72 399.54 L213.91 400.46 L215.12 401.37 L216.32 402.28 L217.52 403.19 L218.72 404.1 L219.93 405.01 L221.14 405.91 L222.35 406.82 L223.55 407.72 L224.77 408.62 L225.98 409.52 L227.19 410.42 L228.41 411.32 L229.62 412.21 L230.84 413.11 L232.06 414 L233.28 414.89 L234.51 415.77 L235.73 416.66 L236.96 417.54 L238.19 418.43 L239.42 419.31 L240.65 420.19 L241.88 421.06 L243.12 421.94 L244.36 422.81 L245.6 423.68 L246.84 424.55 L248.08 425.42 L249.33 426.29 L250.57 427.15 L251.82 428.02 L253.07 428.88 L254.33 429.73 L255.58 430.59 L256.84 431.44 L258.1 432.3" stroke="#0000ff"/>
<path d="M84.61 319.09 L86.08 319.22 L87.54 319.36 L89.02 319.51 L90.49 319.68 L91.96 319.86 L93.43 320.05 L94.91 320.25 L96.39 320.47 L97.86 320.7 L99.34 320.94 L100.81 321.2 L102.29 321.46 L103.77 321.74 L105.24 322.03 L106.72 322.34 L108.19 322.65 L109.66 322.98 L111.14 323.32 L112.61 323.67 L114.08 324.04 L115.55 324.42 L117.01 324.8 L118.48 325.21 L119.94 325.62 L121.4 326.05 L122.85 326.49 L124.31 326.94 L125.76 327.4 L127.21 327.87 L128.65 328.36 L130.09 328.86 L131.53 329.37 L132.97 329.89 L134.4 330.43 L135.82 330.98 L137.25 331.53 L138.66 332.11 L140.08 332.69 L141.49 333.28 L142.89 333.89 L144.29 334.51 L145.68 335.14 L147.07 335.78 L148.45 336.43 L149.83 337.1 L151.2 337.78 L152.56 338.47 L153.92 339.17 L155.27 339.88 L156.61 340.61 L157.95 341.34 L159.28 342.09 L160.6 342.85 L161.92 343.62 L163.23 344.41 L164.53 345.2 L165.82 346.01 L167.1 346.82 L168.38 347.65 L169.65 348.49 L170.9 349.35 L172.15 350.21 L173.4 351.08 L174.63 351.97 L175.85 352.87 L177.06 353.78 L178.27 354.7 L179.46 355.63 L180.64 356.58 L181.82 357.53 L182.98 358.5 L184.13 359.47 L185.27 360.46 L186.4 361.46 L187.52 362.47 L188.63 363.5 L189.73 364.53 L190.81 365.57 L191.89 366.63 L192.95 367.7 L194 368.78 L195.03 369.87 L196.06 370.97 L197.07 372.08 L198.07 373.2 L199.06 374.33 L200.03 375.48 L200.99 376.63 L201.93 377.8 L202.87 378.98 L203.78 380.17 L204.69 381.37 L205.58 382.57 L206.45 383.79 L207.31 385.03 L208.16 386.27 L208.99 387.52 L209.81 388.78 L210.61 390.05 L211.39 391.33 L212.16 392.62 L212.91 393.92 L213.65 395.23 L214.37 396.55 L215.07 397.88 L215.75 399.22 L216.42 400.56 L217.07 401.92 L217.71 403.29 L218.32 404.66 L218.92 406.04 L219.5 407.44 L220.06 408.84 L220.61 410.24 L221.13 411.66 L221.64 413.09 L222.12 414.52 L222.59 415.96 L223.04 417.41 L223.46 418.87 L223.87 420.34 L224.26 421.81 L224.63 423.29 L224.98 424.78 L225.32 426.27 L225.64 427.76 L225.95 429.26 L226.25 430.77 L226.55 432.27 L226.84 433.78 L227.12 435.28 L227.4 436.79 L227.69 438.29 L227.98 439.79 L228.27 441.28 L228.57 442.77 L228.87 444.26 L229.19 445.74 L229.52 447.21 L229.86 448.67 L230.22 450.12 L230.6 451.57 L231 453" stroke="#ff0000" stroke-dasharray="4.3 3.2" stroke-dashoffset="0"/>
</g>
<text transform="translate(162.02 292) scale(0.937 1)" class="b s2" font-size="15.45">M=7.7 GeV</text>
</g>
<g id="p5">
<clipPath id="c5"><rect x="265.35" y="268.1" width="177.95" height="185.9"/></clipPath>
<path d="M310.55 453.2 V268.1 M356.15 453.2 V268.1 M401.75 453.2 V268.1 M265.35 314.38 H443 M265.35 360.65 H443 M265.35 406.93 H443" stroke="#000" stroke-width="0.6" stroke-opacity="0.85" stroke-dasharray="1.5 2.15" fill="none"/>
<path d="M310.55 453.2 v-5 M356.15 453.2 v-5 M401.75 453.2 v-5 M265.35 314.38 h4.6 M265.35 360.65 h4.6 M265.35 406.93 h4.6" stroke="#000" stroke-width="0.8" fill="none"/>
<path d="M274.07 453.2 v-2.6 M283.19 453.2 v-2.6 M292.31 453.2 v-2.6 M301.43 453.2 v-2.6 M319.67 453.2 v-2.6 M328.79 453.2 v-2.6 M337.91 453.2 v-2.6 M347.03 453.2 v-2.6 M365.27 453.2 v-2.6 M374.39 453.2 v-2.6 M383.51 453.2 v-2.6 M392.63 453.2 v-2.6 M410.87 453.2 v-2.6 M419.99 453.2 v-2.6 M429.11 453.2 v-2.6 M438.23 453.2 v-2.6 M265.35 300.44 h2.6 M265.35 292.3 h2.6 M265.35 286.51 h2.6 M265.35 282.03 h2.6 M265.35 278.37 h2.6 M265.35 275.27 h2.6 M265.35 272.58 h2.6 M265.35 270.22 h2.6 M265.35 346.72 h2.6 M265.35 338.57 h2.6 M265.35 332.79 h2.6 M265.35 328.31 h2.6 M265.35 324.64 h2.6 M265.35 321.54 h2.6 M265.35 318.86 h2.6 M265.35 316.49 h2.6 M265.35 392.99 h2.6 M265.35 384.85 h2.6 M265.35 379.06 h2.6 M265.35 374.58 h2.6 M265.35 370.92 h2.6 M265.35 367.82 h2.6 M265.35 365.13 h2.6 M265.35 362.77 h2.6 M265.35 439.27 h2.6 M265.35 431.12 h2.6 M265.35 425.34 h2.6 M265.35 420.86 h2.6 M265.35 417.19 h2.6 M265.35 414.09 h2.6 M265.35 411.41 h2.6 M265.35 409.04 h2.6" stroke="#000" stroke-width="0.7" fill="none"/>
<rect x="265.35" y="268.1" width="177.65" height="185.1" fill="none" stroke="#2a2a2a" stroke-width="1"/>
<path d="M283.1 354.3 V453 M293.9 358.7 V382.3 M305.5 360.1 V388.8 M317.7 370.1 V390.9 M327.3 375.9 V399.5 M337.5 370.1 V407.4 M351 352.9 V378" stroke="#000" stroke-width="0.6" fill="none" clip-path="url(#c5)"/>
<circle cx="283.1" cy="369.1" r="2.8" fill="#000"/>
<circle cx="293.9" cy="367.3" r="2.8" fill="#000"/>
<circle cx="305.5" cy="370.1" r="2.8" fill="#000"/>
<circle cx="317.7" cy="378" r="2.8" fill="#000"/>
<circle cx="327.3" cy="384.8" r="2.8" fill="#000"/>
<circle cx="337.5" cy="381.6" r="2.8" fill="#000"/>
<circle cx="351" cy="362" r="2.8" fill="#000"/>
<g clip-path="url(#c5)" fill="none" stroke-width="1.75">
<path d="M269.2 359.39 L270.75 359.54 L272.28 359.72 L273.81 359.93 L275.32 360.18 L276.82 360.45 L278.31 360.76 L279.79 361.1 L281.26 361.47 L282.71 361.87 L284.16 362.29 L285.6 362.75 L287.03 363.23 L288.44 363.73 L289.85 364.27 L291.25 364.82 L292.63 365.4 L294.01 366.01 L295.38 366.63 L296.74 367.28 L298.1 367.95 L299.44 368.64 L300.78 369.35 L302.1 370.07 L303.42 370.82 L304.73 371.58 L306.04 372.36 L307.34 373.16 L308.63 373.97 L309.91 374.79 L311.18 375.63 L312.45 376.48 L313.72 377.35 L314.97 378.22 L316.22 379.11 L317.47 380 L318.71 380.91 L319.94 381.82 L321.17 382.74 L322.39 383.67 L323.61 384.61 L324.82 385.55 L326.03 386.49 L327.23 387.44 L328.43 388.4 L329.63 389.35 L330.82 390.31 L332.01 391.28 L333.19 392.24 L334.37 393.21 L335.55 394.19 L336.72 395.17 L337.89 396.14 L339.06 397.13 L340.22 398.11 L341.38 399.1 L342.54 400.09 L343.69 401.08 L344.85 402.07 L346 403.07 L347.15 404.07 L348.29 405.06 L349.44 406.07 L350.58 407.07 L351.72 408.07 L352.86 409.08 L354 410.08 L355.14 411.09 L356.28 412.1 L357.41 413.1 L358.55 414.11 L359.68 415.12 L360.81 416.13 L361.95 417.14 L363.08 418.15 L364.21 419.16 L365.35 420.17 L366.48 421.18 L367.61 422.19 L368.75 423.2 L369.88 424.21 L371.01 425.22 L372.15 426.22 L373.29 427.23 L374.42 428.23 L375.56 429.24 L376.7 430.24 L377.85 431.24 L378.99 432.24 L380.13 433.23 L381.28 434.23 L382.43 435.22 L383.58 436.21 L384.74 437.2 L385.89 438.19 L387.05 439.17 L388.21 440.16 L389.38 441.14 L390.54 442.11 L391.71 443.08 L392.89 444.05 L394.06 445.02 L395.24 445.98 L396.43 446.94 L397.62 447.9 L398.81 448.85 L400 449.8 L401.21 450.75 L402.41 451.69" stroke="#0000ff" stroke-dasharray="3.65 4.87 1.22 4.87" stroke-dashoffset="5.4"/>
<path d="M269.2 359.38 L270.75 359.57 L272.28 359.79 L273.8 360.04 L275.3 360.32 L276.8 360.63 L278.28 360.96 L279.76 361.33 L281.22 361.71 L282.67 362.13 L284.12 362.57 L285.55 363.03 L286.97 363.52 L288.39 364.03 L289.79 364.56 L291.18 365.12 L292.57 365.69 L293.95 366.29 L295.32 366.91 L296.68 367.55 L298.03 368.2 L299.37 368.88 L300.71 369.57 L302.04 370.28 L303.36 371 L304.68 371.74 L305.99 372.49 L307.29 373.26 L308.59 374.05 L309.88 374.84 L311.16 375.65 L312.44 376.47 L313.71 377.3 L314.98 378.14 L316.25 378.99 L317.5 379.85 L318.76 380.72 L320.01 381.6 L321.25 382.48 L322.5 383.37 L323.73 384.27 L324.97 385.17 L326.2 386.07 L327.43 386.98 L328.66 387.9 L329.88 388.81 L331.1 389.74 L332.32 390.66 L333.53 391.59 L334.75 392.52 L335.96 393.45 L337.17 394.39 L338.37 395.32 L339.58 396.27 L340.78 397.21 L341.98 398.15 L343.18 399.1 L344.38 400.05 L345.58 401 L346.77 401.96 L347.96 402.91 L349.16 403.87 L350.35 404.83 L351.54 405.79 L352.73 406.75 L353.91 407.71 L355.1 408.67 L356.29 409.63 L357.47 410.59 L358.66 411.56 L359.84 412.52 L361.03 413.49 L362.21 414.45 L363.4 415.41 L364.58 416.38 L365.77 417.34 L366.95 418.3 L368.14 419.27 L369.32 420.23 L370.51 421.19 L371.69 422.15 L372.88 423.11 L374.07 424.06 L375.25 425.02 L376.44 425.97 L377.63 426.93 L378.82 427.88 L380.01 428.82 L381.21 429.77 L382.4 430.72 L383.6 431.66 L384.8 432.6 L385.99 433.54 L387.2 434.47 L388.4 435.4 L389.6 436.33 L390.81 437.26 L392.02 438.18 L393.23 439.1 L394.44 440.01 L395.65 440.92 L396.87 441.83 L398.09 442.74 L399.31 443.64 L400.54 444.53 L401.77 445.43 L403 446.31 L404.23 447.2 L405.47 448.07 L406.71 448.95 L407.95 449.82 L409.2 450.68 L410.45 451.54 L411.7 452.39" stroke="#0000ff"/>
<path d="M269.21 364.79 L270.69 364.88 L272.18 364.98 L273.67 365.09 L275.16 365.21 L276.65 365.34 L278.14 365.49 L279.63 365.64 L281.12 365.8 L282.61 365.98 L284.1 366.16 L285.59 366.36 L287.08 366.56 L288.57 366.78 L290.06 367 L291.55 367.24 L293.04 367.49 L294.53 367.75 L296.01 368.01 L297.5 368.29 L298.98 368.58 L300.47 368.88 L301.95 369.19 L303.43 369.51 L304.91 369.83 L306.39 370.17 L307.87 370.52 L309.34 370.88 L310.82 371.25 L312.29 371.63 L313.76 372.02 L315.23 372.42 L316.69 372.83 L318.16 373.25 L319.62 373.68 L321.07 374.12 L322.53 374.57 L323.98 375.03 L325.43 375.51 L326.88 375.98 L328.32 376.47 L329.77 376.97 L331.2 377.48 L332.64 378 L334.07 378.53 L335.5 379.07 L336.92 379.62 L338.34 380.18 L339.76 380.75 L341.17 381.33 L342.58 381.91 L343.98 382.51 L345.38 383.12 L346.78 383.73 L348.17 384.36 L349.56 385 L350.94 385.64 L352.32 386.3 L353.69 386.96 L355.06 387.64 L356.42 388.32 L357.78 389.01 L359.13 389.71 L360.48 390.43 L361.82 391.15 L363.15 391.88 L364.48 392.62 L365.81 393.37 L367.13 394.13 L368.44 394.89 L369.75 395.67 L371.05 396.46 L372.34 397.26 L373.63 398.06 L374.91 398.88 L376.18 399.7 L377.44 400.54 L378.7 401.38 L379.95 402.24 L381.19 403.11 L382.43 403.98 L383.65 404.87 L384.87 405.76 L386.07 406.67 L387.27 407.59 L388.46 408.52 L389.64 409.46 L390.81 410.41 L391.97 411.37 L393.12 412.34 L394.26 413.32 L395.38 414.31 L396.5 415.32 L397.61 416.33 L398.7 417.36 L399.79 418.4 L400.86 419.45 L401.92 420.51 L402.97 421.58 L404 422.67 L405.02 423.76 L406.03 424.87 L407.03 425.99 L408.02 427.12 L408.99 428.27 L409.94 429.42 L410.89 430.59 L411.82 431.77 L412.73 432.96 L413.63 434.17 L414.52 435.39 L415.39 436.62 L416.25 437.86 L417.09 439.12 L417.91 440.39 L418.72 441.67 L419.52 442.96 L420.29 444.27 L421.06 445.59 L421.8 446.93 L422.53 448.27 L423.24 449.63 L423.93 451.01 L424.61 452.4" stroke="#ff0000" stroke-dasharray="4.3 3.2" stroke-dashoffset="0"/>
</g>
<rect x="442.2" y="452" width="1.2" height="1.4" fill="#ff0000"/>
<text transform="translate(347.02 292) scale(0.937 1)" class="b s2" font-size="15.45">M=11.85 GeV</text>
</g>
<text transform="translate(67.8 73.8) scale(0.971 1)" class="n" font-size="11.74" text-anchor="end">10</text>
<text transform="translate(70.6 66.8) scale(1.1264 1)" class="n" font-size="9.79">2</text>
<text transform="translate(67.8 110.74) scale(0.971 1)" class="n" font-size="11.74" text-anchor="end">10</text>
<text transform="translate(67.8 147.68) scale(0.971 1)" class="n" font-size="11.74" text-anchor="end">1</text>
<text transform="translate(63.7 185.22) scale(0.971 1)" class="n" font-size="11.74" text-anchor="end">10</text>
<text transform="translate(68.1 174.52) scale(0.903 1)" class="n" font-size="9.79">-1</text>
<text transform="translate(63.7 222.16) scale(0.971 1)" class="n" font-size="11.74" text-anchor="end">10</text>
<text transform="translate(68.1 211.46) scale(0.903 1)" class="n" font-size="9.79">-2</text>
<text transform="translate(63.7 259.1) scale(0.971 1)" class="n" font-size="11.74" text-anchor="end">10</text>
<text transform="translate(68.1 248.4) scale(0.903 1)" class="n" font-size="9.79">-3</text>
<text transform="translate(69.3 272.4) scale(0.971 1)" class="n" font-size="11.74" text-anchor="end">10</text>
<text transform="translate(69.3 318.68) scale(0.971 1)" class="n" font-size="11.74" text-anchor="end">1</text>
<text transform="translate(65.2 365.55) scale(0.971 1)" class="n" font-size="11.74" text-anchor="end">10</text>
<text transform="translate(69.6 354.85) scale(0.903 1)" class="n" font-size="9.79">-1</text>
<text transform="translate(65.2 411.83) scale(0.971 1)" class="n" font-size="11.74" text-anchor="end">10</text>
<text transform="translate(69.6 401.12) scale(0.903 1)" class="n" font-size="9.79">-2</text>
<text transform="translate(65.2 458.1) scale(0.971 1)" class="n" font-size="11.74" text-anchor="end">10</text>
<text transform="translate(69.6 447.4) scale(0.903 1)" class="n" font-size="9.79">-3</text>
<text transform="translate(125.85 473.1) scale(0.971 1)" class="n" font-size="12.36" text-anchor="middle">1</text>
<text transform="translate(171.45 473.1) scale(0.971 1)" class="n" font-size="12.36" text-anchor="middle">2</text>
<text transform="translate(217.05 473.1) scale(0.971 1)" class="n" font-size="12.36" text-anchor="middle">3</text>
<text transform="translate(310.85 473.1) scale(0.971 1)" class="n" font-size="12.36" text-anchor="middle">1</text>
<text transform="translate(356.45 473.1) scale(0.971 1)" class="n" font-size="12.36" text-anchor="middle">2</text>
<text transform="translate(402.05 473.1) scale(0.971 1)" class="n" font-size="12.36" text-anchor="middle">3</text>
<text transform="translate(495.8 273.3) scale(0.971 1)" class="n" font-size="12.36" text-anchor="middle">1</text>
<text transform="translate(541.4 273.3) scale(0.971 1)" class="n" font-size="12.36" text-anchor="middle">2</text>
<text transform="translate(587 273.3) scale(0.971 1)" class="n" font-size="12.36" text-anchor="middle">3</text>
<text transform="translate(566.2 294.5) scale(1.0001 1)" class="b" font-size="17">q</text>
<text transform="translate(575.7 299.8) scale(1.0681 1)" class="b s" font-size="12.15">T</text>
<text transform="translate(583.45 294.5) scale(0.9904 1)" class="b" font-size="17">(GeV)</text>
<text transform="translate(381.2 493.2) scale(1.0001 1)" class="b" font-size="17">q</text>
<text transform="translate(390.7 498.5) scale(1.0681 1)" class="b s" font-size="12.15">T</text>
<text transform="translate(398.45 493.2) scale(0.9904 1)" class="b" font-size="17">(GeV)</text>
<text transform="translate(224.8 31) scale(0.971 1)" class="b" font-size="19.57">E866: E</text>
<text transform="translate(293.35 37.3) scale(0.971 1)" class="b s" font-size="13.91">CM</text>
<text transform="translate(314.2 31) scale(0.9865 1)" class="b" font-size="19.57">=38.8 GeV, x</text>
<text transform="translate(427.3 37.3) scale(0.971 1)" class="b s" font-size="13.91">F</text>
<text transform="translate(435.1 31) scale(0.9205 1)" class="b" font-size="19.57">=0.1</text>
<g transform="translate(34.9 218.2) rotate(-90)">
<text transform="translate(0 0) scale(0.92 1)" class="b" font-size="17.5">Ed</text>
<text transform="translate(20.47 -8.5) scale(1.13 1)" class="b" font-size="11.3">3</text>
<text transform="translate(27.96 0) scale(0.92 1)" class="n" font-size="17.5">σ</text>
<text transform="translate(37.94 0) scale(0.92 1)" class="b" font-size="17.5">/d</text>
<text transform="translate(52.12 -8.5) scale(1.13 1)" class="b" font-size="11.3">3</text>
<text transform="translate(59.72 0) scale(0.92 1)" class="b" font-size="17.5">q (pb/GeV</text>
<text transform="translate(136.29 -8.5) scale(1.13 1)" class="b" font-size="11.3">2</text>
<text transform="translate(143.59 0) scale(0.92 1)" class="b" font-size="17.5">)</text>
</g>
</svg>
</body></html>
